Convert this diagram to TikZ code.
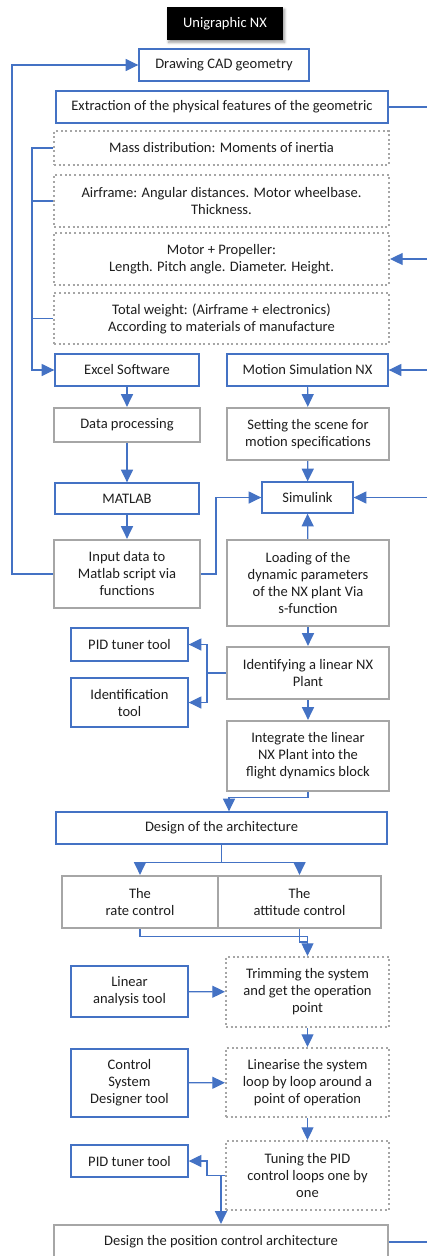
\documentclass[tikz,border=0pt]{standalone}
\usepackage{fontspec}
\setmainfont{Carlito}
\usetikzlibrary{arrows.meta}
\usetikzlibrary{calc}
\usetikzlibrary{shadows.blur}
\definecolor{flowblue}{RGB}{68,114,196}
\definecolor{boxgray}{RGB}{166,166,166}
\definecolor{txtgray}{RGB}{30,30,30}

\begin{document}
\begin{tikzpicture}[x=0.75pt,y=0.75pt,yscale=-1,xscale=1,
  every node/.style={font=\fontsize{10.9}{12.75}\selectfont,text=txtgray,align=center,inner sep=0pt},
  sz/.style 2 args={minimum width=#1*0.75pt,minimum height=#2*0.75pt},
  bluebox/.style={draw=flowblue,line width=1pt,fill=white},
  graybox/.style={draw=boxgray,line width=1.7pt,fill=white},
  dotbox/.style={draw=boxgray,line width=1.5pt,dotted,fill=white},
  titlebox/.style={fill=black,text=white,blur shadow={shadow xshift=1.2pt,shadow yshift=-1.8pt,shadow blur steps=6}},
  link/.style={draw=flowblue,line width=0.9pt},
  flow/.style={link,-{Triangle[length=9.5pt,width=9pt]}}]
  \useasboundingbox (0,0) rectangle (427,1256);
  \clip (0,0) rectangle (427,1256);
  % bus lines at the edges
  \coordinate (outerL) at (12,0);
  \coordinate (bus) at (32,0);
  \coordinate (jog) at (216,0);
  \coordinate (fork) at (207,0);
  \coordinate (rbus) at (434,0);

  \node (title) at (225,23.5) [titlebox,sz={116}{33}] {Unigraphic NX};
  \node (cad) at (224,65) [bluebox,sz={170}{32}] {Drawing CAD geometry};
  \node (extr) at (222,107) [bluebox,sz={332}{32}] {Extraction of the physical features of the geometric};
  \node (mass) at (221.5,148) [dotbox,sz={335}{34}] {Mass distribution: Moments of inertia};
  \node (airf) at (221.5,201) [dotbox,sz={335}{52}] {Airframe: Angular distances. Motor wheelbase.\\Thickness.};
  \node (motor) at (221.5,259) [dotbox,sz={335}{52}] {Motor + Propeller:\\Length. Pitch angle. Diameter. Height.};
  \node (weight) at (221.5,318.5) [dotbox,sz={335}{51}] {Total weight: (Airframe + electronics)\\According to materials of manufacture};

  \node (excel) at (127,370) [bluebox,sz={144}{32}] {Excel Software};
  \node (motion) at (307.5,370) [bluebox,sz={161}{32}] {Motion Simulation NX};
  \node (datap) at (127,425) [graybox,sz={146}{34}] {Data processing};
  \node (scene) at (308,434) [graybox,sz={162}{52}] {Setting the scene for\\motion specifications};
  \node (matlab) at (127,498.5) [bluebox,sz={144}{31}] {MATLAB};
  \node (simlk) at (307.5,497.5) [bluebox,sz={91}{31}] {Simulink};
  \node (input) at (127,574) [graybox,sz={146}{68}] {Input data to\\Matlab script via\\functions};
  \node (loading) at (308,583) [graybox,sz={162}{86}] {Loading of the\\dynamic parameters\\of the NX plant Via\\s-function};

  \node (pid1) at (129.5,644.5) [bluebox,sz={117}{33}] {PID tuner tool};
  \node (ident) at (129.5,702.5) [bluebox,sz={117}{49}] {Identification\\tool};
  \node (idlin) at (308,673) [graybox,sz={162}{52}] {Identifying a linear NX\\Plant};
  \node (integ) at (308,756) [graybox,sz={162}{70}] {Integrate the linear\\NX Plant into the\\flight dynamics block};

  \node (arch) at (221.5,828) [bluebox,sz={331}{32}] {Design of the architecture};
  \node (rate) at (140,902) [graybox,sz={156}{52}] {The\\rate control};
  \node (att) at (299.5,902) [graybox,sz={163}{52}] {The\\attitude control};

  \node (lin) at (129.5,991.5) [bluebox,sz={117}{51}] {Linear\\analysis tool};
  \node (trim) at (307.5,992) [dotbox,sz={163}{70}] {Trimming the system\\and get the operation\\point};
  \node (csd) at (129.5,1083) [bluebox,sz={117}{68}] {Control\\System\\Designer tool};
  \node (linz) at (307.5,1082.5) [dotbox,sz={163}{69}] {Linearise the system\\loop by loop around a\\point of operation};
  \node (pid2) at (129.5,1161) [bluebox,sz={117}{32}] {PID tuner tool};
  \node (tune) at (307.5,1175.5) [dotbox,sz={163}{69}] {Tuning the PID\\control loops one by\\one};
  \node (pos) at (221,1242) [graybox,sz={334}{34}] {Design the position control architecture};

  % left side
  \draw[flow] (input.west) -- (input.west -| outerL) |- (cad.west);
  \draw[flow] (mass.west) -- (mass.west -| bus) |- (excel.west);
  \draw[link] (airf.west) -- (airf.west -| bus);
  \draw[link] (weight.west) -- (weight.west -| bus);
  \draw[flow] (excel) -- (datap);
  \draw[flow] (datap) -- (matlab);
  \draw[flow] (matlab) -- (input);
  \draw[flow] (input.east) -- (input.east -| jog) |- (simlk.west);
  % right side
  \draw[link] (extr.east) -- (extr.east -| rbus) -- (pos.east -| rbus) -- (pos.east);
  \draw[flow] (motor.east -| rbus) -- (motor.east);
  \draw[flow] (motion.east -| rbus) -- (motion.east);
  \draw[flow] (simlk.east -| rbus) -- (simlk.east);
  \draw[flow] (motion) -- (scene);
  \draw[flow] (scene) -- (simlk);
  \draw[flow] (loading) -- (simlk);
  \draw[flow] (loading) -- (idlin);
  \draw[flow] (idlin.west) -- (idlin.west -| fork) |- (pid1.east);
  \draw[flow] (idlin.west -| fork) |- (ident.east);
  \draw[flow] (idlin) -- (integ);
  \draw[flow] (integ.south) -- ++(0,5) -| ($(arch.north)+(7.5,0)$);
  % architecture
  \draw[link] (arch.south) -- ++(0,18) coordinate (split);
  \draw[flow] (split) -| (rate.north);
  \draw[flow] (split) -| (att.north);
  \draw[flow] (rate.south) -- ++(0,7) -| (trim.north);
  \draw[link] (att.south) |- ($(trim.north)+(0,-14)$);
  \draw[flow] (lin) -- (trim);
  \draw[flow] (trim) -- (linz);
  \draw[flow] (csd) -- (linz);
  \draw[flow] (linz) -- (tune);
  \draw[flow] (tune.west) -- (tune.west -| fork) |- (pid2.east);
  \draw[flow] (tune.west -| pos.north) -- (pos.north);
\end{tikzpicture}
\end{document}
